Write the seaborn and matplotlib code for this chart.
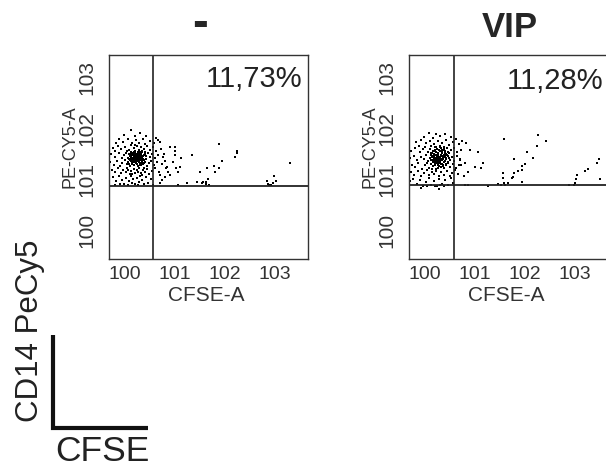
import numpy as np
import pandas as pd
import seaborn as sns
import matplotlib.pyplot as plt
from matplotlib.lines import Line2D
from matplotlib.ticker import LogLocator, NullFormatter
from matplotlib.transforms import ScaledTranslation

W, H = 606, 468

panel_titles = ["-", "VIP"]
quadrant_pct = ["11,73%", "11,28%"]
# gate positions, log10 units
gate_x = [0.88, 0.90]
gate_y = [1.43, 1.45]
decades = [0, 1, 2, 3, 4]
tick_labels = ["100", "101", "102", "103", ""]

# events: (log10 CFSE-A, log10 PE-Cy5-A)
ctrl_cluster = [
    (0.45, 2.52), (0.62, 2.48), (0.30, 2.44), (0.75, 2.42), (0.52, 2.41), (0.95, 2.38),
    (0.20, 2.36), (0.38, 2.35), (0.55, 2.33), (0.68, 2.36), (0.82, 2.31), (0.28, 2.29),
    (0.47, 2.27), (0.61, 2.28), (0.73, 2.26), (0.90, 2.27), (0.15, 2.27), (1.02, 2.30),
    (0.08, 2.18), (0.18, 2.22), (0.25, 2.15), (0.33, 2.20), (0.40, 2.13), (0.44, 2.23),
    (0.50, 2.17), (0.56, 2.21), (0.60, 2.12), (0.65, 2.19), (0.70, 2.15), (0.77, 2.22),
    (0.83, 2.14), (0.88, 2.19), (0.95, 2.12), (1.05, 2.16), (0.36, 2.11), (0.52, 2.24),
    (0.72, 2.10), (0.12, 2.12),
    (0.05, 2.05), (0.12, 2.00), (0.20, 2.07), (0.26, 1.98), (0.31, 2.04), (0.35, 2.08),
    (0.38, 1.99), (0.42, 2.02), (0.45, 2.07), (0.47, 1.97), (0.49, 2.03), (0.51, 2.09),
    (0.53, 1.99), (0.55, 2.05), (0.57, 2.01), (0.59, 2.08), (0.61, 1.96), (0.63, 2.03),
    (0.65, 2.06), (0.67, 1.99), (0.70, 2.04), (0.74, 1.97), (0.78, 2.07), (0.82, 2.00),
    (0.86, 2.05), (0.92, 1.98), (0.98, 2.03), (1.08, 2.00), (0.44, 1.96), (0.58, 1.95),
    (0.50, 2.00), (0.54, 2.02), (0.46, 2.04), (0.62, 2.00), (0.40, 2.06), (0.66, 2.02),
    (0.56, 1.97), (0.48, 2.06), (0.60, 2.04), (0.52, 1.96),
    (0.03, 1.90), (0.10, 1.85), (0.16, 1.92), (0.22, 1.83), (0.27, 1.89), (0.32, 1.94),
    (0.36, 1.86), (0.39, 1.91), (0.43, 1.82), (0.46, 1.88), (0.48, 1.93), (0.50, 1.85),
    (0.52, 1.90), (0.55, 1.94), (0.57, 1.87), (0.59, 1.92), (0.62, 1.84), (0.64, 1.89),
    (0.66, 1.93), (0.69, 1.86), (0.72, 1.91), (0.76, 1.83), (0.80, 1.88), (0.85, 1.92),
    (0.90, 1.85), (0.97, 1.90), (1.06, 1.87), (0.45, 1.93), (0.54, 1.88), (0.60, 1.90),
    (0.41, 1.87), (0.67, 1.88), (0.49, 1.90), (0.58, 1.83), (0.53, 1.92),
    (0.06, 1.74), (0.12, 1.70), (0.18, 1.78), (0.24, 1.68), (0.29, 1.75), (0.34, 1.71),
    (0.37, 1.79), (0.42, 1.66), (0.45, 1.73), (0.50, 1.77), (0.53, 1.69), (0.57, 1.75),
    (0.61, 1.79), (0.64, 1.68), (0.68, 1.74), (0.73, 1.70), (0.77, 1.77), (0.81, 1.67),
    (0.86, 1.73), (0.93, 1.78), (1.00, 1.70), (0.47, 1.67), (0.59, 1.71), (0.39, 1.74),
    (0.70, 1.79),
    (0.08, 1.60), (0.14, 1.52), (0.20, 1.62), (0.26, 1.55), (0.31, 1.48), (0.35, 1.59),
    (0.40, 1.52), (0.44, 1.63), (0.48, 1.56), (0.52, 1.47), (0.56, 1.58), (0.60, 1.51),
    (0.63, 1.62), (0.67, 1.54), (0.71, 1.47), (0.75, 1.60), (0.79, 1.50), (0.84, 1.57),
    (0.88, 1.46), (0.22, 1.47), (0.38, 1.46), (0.58, 1.46), (0.12, 1.46), (0.66, 1.64),
    (0.47, 1.50),
]
ctrl_core = [
    (0.42, 1.95), (0.44, 2.00), (0.46, 1.91), (0.48, 1.98), (0.50, 2.04), (0.51, 1.94),
    (0.53, 2.07), (0.54, 1.98), (0.55, 1.90), (0.56, 2.03), (0.57, 1.96), (0.58, 2.10),
    (0.59, 1.99), (0.60, 1.93), (0.61, 2.06), (0.62, 1.98), (0.63, 1.89), (0.64, 2.00),
    (0.65, 1.95), (0.66, 2.09), (0.68, 1.97), (0.69, 2.01), (0.71, 1.94), (0.72, 2.06),
    (0.45, 2.10), (0.47, 1.86), (0.52, 2.12), (0.56, 1.86), (0.60, 2.14), (0.64, 1.84),
    (0.67, 2.12), (0.70, 1.89), (0.43, 2.04), (0.49, 2.08), (0.54, 1.93), (0.58, 2.00),
    (0.62, 2.09), (0.66, 1.92), (0.40, 1.97), (0.74, 2.02),
]
ctrl_spread = [
    (1.23, 2.20), (1.33, 2.20), (1.33, 2.12), (1.33, 2.03), (1.43, 1.80), (1.45, 1.98),
    (1.67, 2.04), (2.21, 2.25), (2.58, 2.12), (2.58, 2.08), (2.54, 2.00), (2.27, 1.92),
    (2.11, 1.82), (1.97, 1.78), (2.21, 1.78), (2.13, 1.71), (1.83, 1.71), (1.99, 1.57),
    (1.95, 1.51), (1.89, 1.51), (1.95, 1.48), (3.64, 1.88), (3.32, 1.63), (3.36, 1.53),
    (3.30, 1.49), (3.18, 1.53), (3.20, 1.47), (1.15, 1.78), (1.35, 1.78), (1.39, 1.71),
    (1.23, 1.65), (1.17, 1.80), (1.19, 1.71), (1.13, 1.61), (1.03, 1.65), (1.07, 1.55),
    (1.03, 1.49), (0.99, 2.33), (1.39, 1.45), (1.57, 1.49), (1.77, 1.51), (1.87, 1.49),
    (2.01, 1.46), (1.10, 2.05), (1.12, 1.92), (1.28, 1.90), (3.22, 1.45), (3.25, 1.46),
]
vip_cluster = [
    (0.40, 2.48), (0.55, 2.46), (0.72, 2.45), (0.30, 2.40), (0.63, 2.41), (0.85, 2.39),
    (0.48, 2.37), (0.95, 2.36),
    (0.15, 2.30), (0.25, 2.33), (0.35, 2.27), (0.42, 2.32), (0.50, 2.25), (0.58, 2.31),
    (0.66, 2.28), (0.74, 2.33), (0.80, 2.24), (0.88, 2.29), (1.00, 2.26), (0.20, 2.22),
    (0.45, 2.21), (0.62, 2.22), (0.70, 2.20), (1.07, 2.31),
    (0.05, 2.12), (0.12, 2.17), (0.22, 2.09), (0.28, 2.15), (0.33, 2.19), (0.38, 2.10),
    (0.43, 2.16), (0.47, 2.08), (0.52, 2.14), (0.55, 2.19), (0.58, 2.07), (0.61, 2.13),
    (0.64, 2.17), (0.67, 2.09), (0.70, 2.15), (0.73, 2.11), (0.77, 2.18), (0.81, 2.07),
    (0.85, 2.13), (0.91, 2.17), (0.97, 2.09), (1.04, 2.14), (0.50, 2.11), (0.66, 2.13),
    (0.57, 2.16), (0.75, 2.06),
    (0.03, 1.98), (0.10, 2.02), (0.17, 1.94), (0.24, 2.00), (0.30, 1.96), (0.35, 2.03),
    (0.39, 1.92), (0.42, 1.99), (0.45, 2.04), (0.48, 1.95), (0.51, 2.01), (0.53, 1.93),
    (0.56, 1.98), (0.58, 2.03), (0.60, 1.91), (0.62, 1.97), (0.64, 2.02), (0.66, 1.94),
    (0.68, 1.99), (0.70, 2.04), (0.72, 1.92), (0.75, 1.98), (0.78, 2.02), (0.82, 1.95),
    (0.86, 2.00), (0.90, 1.93), (0.96, 2.01), (1.03, 1.96), (0.55, 1.95), (0.61, 2.00),
    (0.65, 1.97), (0.57, 2.01), (0.69, 1.96), (0.52, 1.98), (0.63, 1.93), (0.47, 2.00),
    (0.73, 2.00), (0.59, 1.96),
    (0.06, 1.85), (0.13, 1.80), (0.19, 1.88), (0.26, 1.77), (0.32, 1.84), (0.37, 1.89),
    (0.41, 1.79), (0.44, 1.86), (0.49, 1.82), (0.52, 1.88), (0.55, 1.77), (0.58, 1.84),
    (0.61, 1.89), (0.64, 1.80), (0.67, 1.86), (0.71, 1.78), (0.74, 1.85), (0.79, 1.89),
    (0.83, 1.80), (0.88, 1.86), (0.94, 1.78), (1.01, 1.84), (0.60, 1.82), (0.69, 1.83),
    (0.46, 1.76),
    (0.04, 1.70), (0.11, 1.65), (0.18, 1.72), (0.24, 1.62), (0.30, 1.69), (0.36, 1.74),
    (0.41, 1.64), (0.46, 1.71), (0.51, 1.66), (0.55, 1.73), (0.60, 1.62), (0.65, 1.70),
    (0.70, 1.65), (0.76, 1.72), (0.82, 1.63), (0.87, 1.69), (0.93, 1.74), (0.99, 1.66),
    (0.02, 1.52), (0.09, 1.57), (0.16, 1.47), (0.22, 1.55), (0.28, 1.44), (0.34, 1.51),
    (0.40, 1.58), (0.45, 1.46), (0.50, 1.53), (0.56, 1.43), (0.61, 1.56), (0.66, 1.48),
    (0.72, 1.54), (0.78, 1.45), (0.84, 1.59), (0.89, 1.50), (0.52, 1.44), (0.62, 1.45),
    (0.37, 1.44), (0.70, 1.43), (0.25, 1.39), (0.60, 1.38),
]
vip_core = [
    (0.45, 1.95), (0.47, 2.02), (0.49, 1.90), (0.51, 2.06), (0.53, 1.97), (0.55, 2.10),
    (0.56, 1.88), (0.58, 1.99), (0.59, 2.05), (0.61, 1.94), (0.62, 2.12), (0.63, 2.00),
    (0.65, 1.87), (0.66, 2.07), (0.67, 1.95), (0.69, 2.02), (0.70, 1.90), (0.72, 2.08),
    (0.74, 1.97), (0.76, 2.04), (0.78, 1.91), (0.48, 2.12), (0.52, 1.85), (0.57, 2.15),
    (0.60, 1.83), (0.64, 2.17), (0.68, 1.84), (0.71, 2.14), (0.75, 1.86), (0.79, 2.10),
    (0.50, 1.99), (0.54, 2.03), (0.60, 1.98), (0.64, 2.04), (0.68, 1.99), (0.73, 2.01),
    (0.57, 1.92), (0.63, 1.91), (0.44, 2.07), (0.81, 1.98), (0.62, 2.20), (0.58, 1.78),
    (0.70, 1.78), (0.52, 2.20),
]
vip_spread = [
    (1.91, 2.35), (2.60, 2.43), (2.76, 2.31), (2.58, 2.22), (2.37, 2.10), (2.49, 1.98),
    (2.11, 1.96), (2.33, 1.86), (2.27, 1.82), (2.27, 1.75), (2.19, 1.73), (2.11, 1.69),
    (2.09, 1.61), (2.07, 1.59), (1.89, 1.69), (1.89, 1.59), (1.91, 1.49), (1.99, 1.49),
    (2.27, 1.51), (3.38, 1.65), (3.36, 1.57), (3.34, 1.49), (3.32, 1.45), (3.54, 1.73),
    (3.60, 1.76), (3.82, 1.96), (3.78, 1.88), (3.84, 1.57), (3.22, 1.45), (1.15, 2.27),
    (1.23, 2.14), (1.39, 2.10), (1.49, 1.88), (1.45, 1.78), (1.33, 1.80), (1.05, 1.84),
    (1.19, 1.71), (1.13, 1.88), (1.03, 1.94), (1.10, 1.63), (1.13, 1.45), (1.19, 1.45),
    (1.59, 1.44), (1.79, 1.47), (1.93, 1.45), (1.85, 1.46),
]

panels = [ctrl_cluster + ctrl_core + ctrl_spread, vip_cluster + vip_core + vip_spread]
panel_left_px = [109, 409]

sns.set_style("white")
plt.rcParams["font.family"] = ["Liberation Sans", "DejaVu Sans"]

fig = plt.figure(figsize=(W / 100, H / 100), dpi=100)
grey = "#333333"

for i, events in enumerate(panels):
    ax = fig.add_axes([panel_left_px[i] / W, 1 - 259 / H, 199 / W, 204 / H])
    df = pd.DataFrame(events, columns=["cfse", "pecy5"])
    df["CFSE-A"] = 10 ** df["cfse"]
    df["PE-Cy5-A"] = 10 ** df["pecy5"]
    sns.scatterplot(data=df, x="CFSE-A", y="PE-Cy5-A", ax=ax, s=3.5, marker="s",
                    color="black", linewidth=0, legend=False)

    ax.set_xscale("log")
    ax.set_yscale("log")
    ax.set_xlim(1, 1e4)
    ax.set_ylim(1, 1e4)

    ax.axvline(10 ** gate_x[i], color="#222222", lw=1.2)
    ax.axhline(10 ** gate_y[i], color="#222222", lw=1.3)

    ticks = [10.0 ** d for d in decades]
    ax.set_xticks(ticks, tick_labels)
    ax.set_yticks(ticks, tick_labels)
    for axis in (ax.xaxis, ax.yaxis):
        axis.set_minor_locator(LogLocator(base=10, subs=np.arange(2, 10)))
        axis.set_minor_formatter(NullFormatter())
    ax.tick_params(which="major", direction="inout", length=8, width=1,
                   color=grey, labelcolor=grey, labelsize=14)
    ax.tick_params(which="minor", direction="in", length=3, width=0.7, color=grey)
    ax.tick_params(axis="x", which="major", pad=1)
    ax.tick_params(axis="y", which="major", pad=5, labelsize=15)

    for lbl in ax.get_xticklabels():
        lbl.set_horizontalalignment("left")
    for lbl in ax.get_yticklabels():
        lbl.set_rotation(90)
        lbl.set_rotation_mode("anchor")
        lbl.set_horizontalalignment("left")
        lbl.set_verticalalignment("bottom")
        lbl.set_transform(lbl.get_transform() + ScaledTranslation(0, 8 / 72, fig.dpi_scale_trans))

    for spine in ax.spines.values():
        spine.set_color(grey)
        spine.set_linewidth(1)

    ax.set_xlabel("CFSE-A", fontsize=15, color=grey)
    ax.xaxis.set_label_coords(0.49, -0.13)
    ax.set_ylabel("PE-CY5-A", fontsize=13, color=grey)
    ax.yaxis.set_label_coords(-0.155, 0.55)

    ax.text(0.97 if i == 0 else 0.975, 0.951 if i == 0 else 0.94, quadrant_pct[i],
            transform=ax.transAxes, ha="right", va="top", fontsize=21, color="#222222")

# panel titles
fig.text(200 / W, 1 - 36 / H, panel_titles[0], fontsize=34, fontweight="bold",
         ha="center", va="baseline")
fig.text(510 / W, 1 - 37 / H, panel_titles[1], fontsize=25, fontweight="bold",
         ha="center", va="baseline")

# axis key in the lower left corner
fig.text(38 / W, 1 - 331 / H, "CD14 PeCy5", fontsize=22.5, rotation=90,
         rotation_mode="anchor", ha="center", va="baseline", color="#222222")
fig.text(55 / W, 1 - 461 / H, "CFSE", fontsize=25.5, ha="left", va="baseline",
         color="#222222")
fig.add_artist(Line2D([53 / W, 53 / W, 148 / W], [1 - 335 / H, 1 - 428 / H, 1 - 428 / H],
                      transform=fig.transFigure, lw=3, color="#111111",
                      solid_joinstyle="miter", solid_capstyle="butt"))

fig.savefig("out.png", dpi=100)
